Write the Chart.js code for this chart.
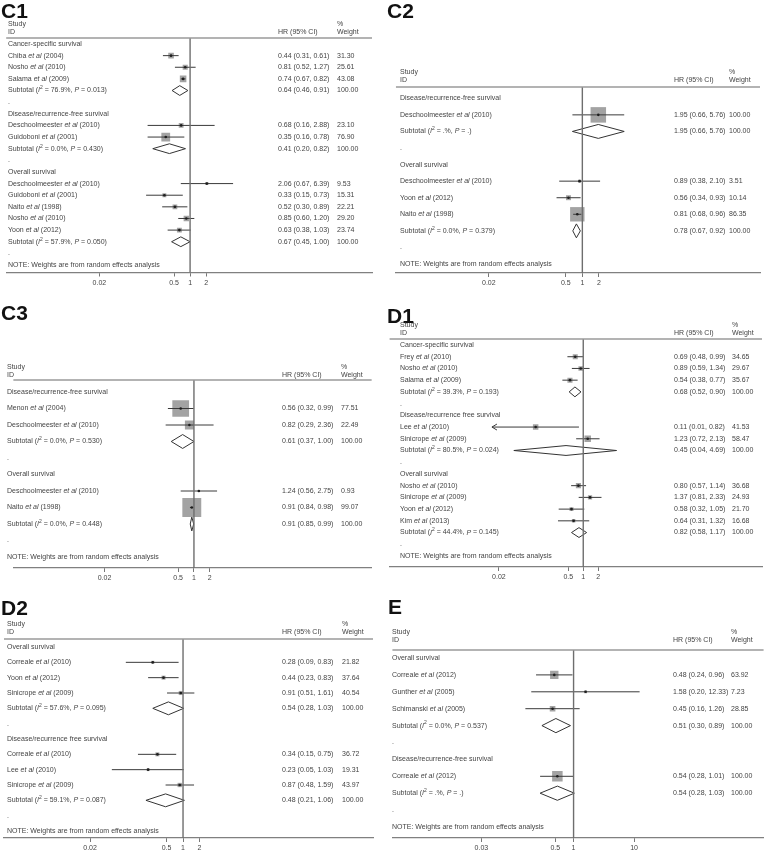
<!DOCTYPE html>
<html>
<head>
<meta charset="utf-8">
<script src="https://cdn.jsdelivr.net/npm/chart.js@4.4.1/dist/chart.umd.min.js"></script>
<style>
  html, body { margin: 0; padding: 0; background: #fff; }
  #page { position: relative; width: 771px; height: 854px; overflow: hidden; }
  .panel { position: absolute; }
</style>
</head>
<body>
<div id="page"></div>
<script>
const NOTE = 'NOTE: Weights are from random effects analysis';

// C1
const c1Rows = ['Cancer-specific survival', 'Chiba *et al* (2004)', 'Nosho *et al* (2010)', 'Salama *et al* (2009)',
  'Subtotal (*I*^2 = 76.9%, *P* = 0.013)', '.', 'Disease/recurrence-free survival', 'Deschoolmeester *et al* (2010)',
  'Guidoboni *et al* (2001)', 'Subtotal (*I*^2 = 0.0%, *P* = 0.430)', '.', 'Overall survival',
  'Deschoolmeester *et al* (2010)', 'Guidoboni *et al* (2001)', 'Naito *et al* (1998)', 'Nosho *et al* (2010)',
  'Yoon *et al* (2012)', 'Subtotal (*I*^2 = 57.9%, *P* = 0.050)', '.', NOTE];
const c1HR     = [null, 0.44, 0.81, 0.74, 0.64, null, null, 0.68, 0.35, 0.41, null, null, 2.06, 0.33, 0.52, 0.85, 0.63, 0.67, null, null];
const c1Low    = [null, 0.31, 0.52, 0.67, 0.46, null, null, 0.16, 0.16, 0.20, null, null, 0.67, 0.15, 0.30, 0.60, 0.38, 0.45, null, null];
const c1High   = [null, 0.61, 1.27, 0.82, 0.91, null, null, 2.88, 0.78, 0.82, null, null, 6.39, 0.73, 0.89, 1.20, 1.03, 1.00, null, null];
const c1Weight = [null, 31.30, 25.61, 43.08, 100, null, null, 23.10, 76.90, 100, null, null, 9.53, 15.31, 22.21, 29.20, 23.74, 100, null, null];

// C2
const c2Rows = ['Disease/recurrence-free survival', 'Deschoolmeester *et al* (2010)', 'Subtotal (*I*^2 = .%, *P* = .)', '.',
  'Overall survival', 'Deschoolmeester *et al* (2010)', 'Yoon *et al* (2012)', 'Naito *et al* (1998)',
  'Subtotal (*I*^2 = 0.0%, *P* = 0.379)', '.', NOTE];
const c2HR     = [null, 1.95, 1.95, null, null, 0.89, 0.56, 0.81, 0.78, null, null];
const c2Low    = [null, 0.66, 0.66, null, null, 0.38, 0.34, 0.68, 0.67, null, null];
const c2High   = [null, 5.76, 5.76, null, null, 2.10, 0.93, 0.96, 0.92, null, null];
const c2Weight = [null, 100, 100, null, null, 3.51, 10.14, 86.35, 100, null, null];

// C3
const c3Rows = ['Disease/recurrence-free survival', 'Menon *et al* (2004)', 'Deschoolmeester *et al* (2010)',
  'Subtotal (*I*^2 = 0.0%, *P* = 0.530)', '.', 'Overall survival', 'Deschoolmeester *et al* (2010)',
  'Naito *et al* (1998)', 'Subtotal (*I*^2 = 0.0%, *P* = 0.448)', '.', NOTE];
const c3HR     = [null, 0.56, 0.82, 0.61, null, null, 1.24, 0.91, 0.91, null, null];
const c3Low    = [null, 0.32, 0.29, 0.37, null, null, 0.56, 0.84, 0.85, null, null];
const c3High   = [null, 0.99, 2.36, 1.00, null, null, 2.75, 0.98, 0.99, null, null];
const c3Weight = [null, 77.51, 22.49, 100, null, null, 0.93, 99.07, 100, null, null];

// D1
const d1Rows = ['Cancer-specific survival', 'Frey *et al* (2010)', 'Nosho *et al* (2010)', 'Salama *et al* (2009)',
  'Subtotal (*I*^2 = 39.3%, *P* = 0.193)', '.', 'Disease/recurrence free survival', 'Lee *et al* (2010)',
  'Sinicrope *et al* (2009)', 'Subtotal (*I*^2 = 80.5%, *P* = 0.024)', '.', 'Overall survival',
  'Nosho *et al* (2010)', 'Sinicrope *et al* (2009)', 'Yoon *et al* (2012)', 'Kim *et al* (2013)',
  'Subtotal (*I*^2 = 44.4%, *P* = 0.145)', '.', NOTE];
const d1HR     = [null, 0.69, 0.89, 0.54, 0.68, null, null, 0.11, 1.23, 0.45, null, null, 0.80, 1.37, 0.58, 0.64, 0.82, null, null];
const d1Low    = [null, 0.48, 0.59, 0.38, 0.52, null, null, 0.01, 0.72, 0.04, null, null, 0.57, 0.81, 0.32, 0.31, 0.58, null, null];
const d1High   = [null, 0.99, 1.34, 0.77, 0.90, null, null, 0.82, 2.13, 4.69, null, null, 1.14, 2.33, 1.05, 1.32, 1.17, null, null];
const d1Weight = [null, 34.65, 29.67, 35.67, 100, null, null, 41.53, 58.47, 100, null, null, 36.68, 24.93, 21.70, 16.68, 100, null, null];

// D2
const d2Rows = ['Overall survival', 'Correale *et al* (2010)', 'Yoon *et al* (2012)', 'Sinicrope *et al* (2009)',
  'Subtotal (*I*^2 = 57.6%, *P* = 0.095)', '.', 'Disease/recurrence free survival', 'Correale *et al* (2010)',
  'Lee *et al* (2010)', 'Sinicrope *et al* (2009)', 'Subtotal (*I*^2 = 59.1%, *P* = 0.087)', '.', NOTE];
const d2HR     = [null, 0.28, 0.44, 0.91, 0.54, null, null, 0.34, 0.23, 0.87, 0.48, null, null];
const d2Low    = [null, 0.09, 0.23, 0.51, 0.28, null, null, 0.15, 0.05, 0.48, 0.21, null, null];
const d2High   = [null, 0.83, 0.83, 1.61, 1.03, null, null, 0.75, 1.03, 1.59, 1.06, null, null];
const d2Weight = [null, 21.82, 37.64, 40.54, 100, null, null, 36.72, 19.31, 43.97, 100, null, null];

// E
const eRows = ['Overall survival', 'Correale *et al* (2012)', 'Gunther *et al* (2005)', 'Schimanski *et al* (2005)',
  'Subtotal (*I*^2 = 0.0%, *P* = 0.537)', '.', 'Disease/recurrence-free survival', 'Correale *et al* (2012)',
  'Subtotal (*I*^2 = .%, *P* = .)', '.', NOTE];
const eHR     = [null, 0.48, 1.58, 0.45, 0.51, null, null, 0.54, 0.54, null, null];
const eLow    = [null, 0.24, 0.20, 0.16, 0.30, null, null, 0.28, 0.28, null, null];
const eHigh   = [null, 0.96, 12.33, 1.26, 0.89, null, null, 1.01, 1.03, null, null];
const eWeight = [null, 63.92, 7.23, 28.85, 100, null, null, 100, 100, null, null];

const cTicks = [0.02, 0.5, 1, 2];
const eTicks = [0.03, 0.5, 1, 10];

const FAMILY = '"Liberation Sans", Arial, Helvetica, sans-serif';
const TEXT = '#444';
const AXIS_H = 14;

// layout of each panel in page pixels
const panels = [
  { id: 'C1', rows: c1Rows, hr: c1HR, lo: c1Low, hi: c1High, wt: c1Weight, ticks: cTicks,
    box: [0, 0, 385, 292], area: [2, 372], head: 38, axis: 272.5, rowY: [44, 265], one: 188, perDecade: 54,
    title: [1, 18], textX: 8, hrX: 278, wtX: 337, headY: [24, 32], boxK: 1.0 },
  { id: 'C2', rows: c2Rows, hr: c2HR, lo: c2Low, hi: c2High, wt: c2Weight, ticks: cTicks,
    box: [385, 0, 386, 292], area: [388, 765], head: 87, axis: 273, rowY: [98.3, 264], one: 581, perDecade: 57,
    title: [387, 18], textX: 400, hrX: 674, wtX: 729, headY: [72, 80], boxK: 1.55 },
  { id: 'C3', rows: c3Rows, hr: c3HR, lo: c3Low, hi: c3High, wt: c3Weight, ticks: cTicks,
    box: [0, 292, 385, 290], area: [2, 373], head: 380, axis: 568, rowY: [392, 557], one: 189, perDecade: 54.5,
    title: [1, 320], textX: 7, hrX: 282, wtX: 341, headY: [367, 375], boxK: 1.9 },
  { id: 'D1', rows: d1Rows, hr: d1HR, lo: d1Low, hi: d1High, wt: d1Weight, ticks: cTicks,
    box: [385, 292, 386, 290], area: [387, 762], head: 339, axis: 567, rowY: [345, 556], one: 582, perDecade: 50,
    title: [387, 323], textX: 400, hrX: 674, wtX: 732, headY: [325, 333], boxK: 0.85, ciFloor: 0.0145 },
  { id: 'D2', rows: d2Rows, hr: d2HR, lo: d2Low, hi: d2High, wt: d2Weight, ticks: cTicks,
    box: [0, 582, 385, 272], area: [2, 373], head: 639, axis: 838, rowY: [647, 831], one: 182, perDecade: 55,
    title: [1, 615], textX: 7, hrX: 282, wtX: 342, headY: [624, 632], boxK: 0.65 },
  { id: 'E', rows: eRows, hr: eHR, lo: eLow, hi: eHigh, wt: eWeight, ticks: eTicks,
    box: [385, 582, 386, 272], area: [388, 765], head: 650, axis: 838, rowY: [658, 827], one: 572, perDecade: 61.5,
    title: [388, 614], textX: 392, hrX: 673, wtX: 731, headY: [632, 640], boxK: 1.05 }
];

// plain text with *italic* runs and ^x superscripts
function drawRich(ctx, str, x, y) {
  str.split('*').forEach((part, k) => {
    const ital = k % 2 === 1 ? 'italic ' : '';
    part.split('^').forEach((bit, j) => {
      if (j > 0) {
        const sup = bit[0];
        ctx.font = ital + '5px ' + FAMILY;
        ctx.fillText(sup, x, y - 2.5);
        x += ctx.measureText(sup).width;
        bit = bit.slice(1);
      }
      ctx.font = ital + '7px ' + FAMILY;
      ctx.fillText(bit, x, y);
      x += ctx.measureText(bit).width;
    });
  });
}

function drawText(chart, p) {
  const ctx = chart.ctx;
  const area = chart.chartArea;
  const ys = chart.scales.y;
  const xs = chart.scales.x;
  const bx = p.box[0], by = p.box[1];
  ctx.save();

  ctx.fillStyle = '#111';
  ctx.textBaseline = 'alphabetic';
  ctx.font = 'bold 21px ' + FAMILY;
  ctx.fillText(p.id, p.title[0] - bx, p.title[1] - by);

  ctx.strokeStyle = '#9a9a9a';
  ctx.lineWidth = 1.5;
  ctx.beginPath();
  ctx.moveTo(area.left, area.top);
  ctx.lineTo(area.right, area.top);
  ctx.stroke();

  ctx.fillStyle = TEXT;
  ctx.textBaseline = 'middle';
  ctx.font = '7px ' + FAMILY;
  ctx.fillText('Study', p.textX - bx, p.headY[0] - by);
  ctx.fillText('ID', p.textX - bx, p.headY[1] - by);
  ctx.fillText('HR (95% CI)', p.hrX - bx, p.headY[1] - by);
  ctx.fillText('%', p.wtX - bx, p.headY[0] - by);
  ctx.fillText('Weight', p.wtX - bx, p.headY[1] - by);

  p.rows.forEach((label, i) => {
    const y = ys.getPixelForValue(i);
    drawRich(ctx, label, p.textX - bx, y);
    if (p.hr[i] == null) return;
    ctx.font = '7px ' + FAMILY;
    ctx.fillText(p.hr[i].toFixed(2) + ' (' + p.lo[i].toFixed(2) + ', ' + p.hi[i].toFixed(2) + ')', p.hrX - bx, y);
    ctx.fillText(p.wt[i].toFixed(2), p.wtX - bx, y);
    // arrow where the CI runs off the left end
    if (p.ciFloor && p.lo[i] < p.ciFloor && !label.startsWith('Subtotal')) {
      const ax = xs.getPixelForValue(p.ciFloor);
      ctx.strokeStyle = '#3a3a3a';
      ctx.lineWidth = 1;
      ctx.beginPath();
      ctx.moveTo(ax + 5, y - 3);
      ctx.lineTo(ax, y);
      ctx.lineTo(ax + 5, y + 3);
      ctx.stroke();
    }
  });
  ctx.restore();
}

function makeChart(p) {
  const [bx, by, bw, bh] = p.box;
  const wrap = document.createElement('div');
  wrap.className = 'panel';
  wrap.style.left = bx + 'px';
  wrap.style.top = by + 'px';
  wrap.style.width = bw + 'px';
  wrap.style.height = bh + 'px';
  const canvas = document.createElement('canvas');
  canvas.width = bw;
  canvas.height = bh;
  canvas.style.width = bw + 'px';
  canvas.style.height = bh + 'px';
  wrap.appendChild(canvas);
  document.getElementById('page').appendChild(wrap);

  const n = p.rows.length;
  const sp = (p.rowY[1] - p.rowY[0]) / (n - 1);
  const yMin = -(p.rowY[0] - p.head) / sp;
  const yMax = (n - 1) + (p.axis - p.rowY[1]) / sp;
  const xMin = Math.pow(10, -(p.one - p.area[0]) / p.perDecade);
  const xMax = Math.pow(10, (p.area[1] - p.one) / p.perDecade);
  const floor = p.ciFloor || 0;

  const ciPts = [], boxPts = [], boxR = [], dotPts = [], diaPts = [];
  p.rows.forEach((label, i) => {
    if (p.hr[i] == null) return;
    if (label.startsWith('Subtotal')) {
      diaPts.push({ x: p.lo[i], y: i }, { x: p.hr[i], y: i - 0.42 }, { x: p.hi[i], y: i },
        { x: p.hr[i], y: i + 0.42 }, { x: p.lo[i], y: i }, { x: null, y: null });
    } else {
      ciPts.push({ x: Math.max(p.lo[i], floor), y: i }, { x: p.hi[i], y: i }, { x: null, y: null });
      boxPts.push({ x: p.hr[i], y: i });
      boxR.push(p.boxK * Math.sqrt(p.wt[i]) / Math.SQRT2);
      dotPts.push({ x: p.hr[i], y: i });
    }
  });

  new Chart(canvas.getContext('2d'), {
    type: 'scatter',
    data: {
      datasets: [
        { data: [{ x: 1, y: yMin }, { x: 1, y: yMax }], showLine: true, borderColor: '#6e6e6e',
          borderWidth: 1.4, pointRadius: 0, order: 0 },
        { data: dotPts, pointStyle: 'circle', pointRadius: 1.3, backgroundColor: '#1e1e1e',
          borderWidth: 0, order: 1 },
        { data: diaPts, showLine: true, borderColor: '#333', borderWidth: 1, pointRadius: 0, order: 2 },
        { data: ciPts, showLine: true, borderColor: '#3a3a3a', borderWidth: 1, pointRadius: 0, order: 3 },
        { data: boxPts, pointStyle: 'rect', pointRadius: boxR, backgroundColor: '#a3a3a3',
          borderWidth: 0, order: 4 }
      ]
    },
    options: {
      responsive: false,
      animation: false,
      events: [],
      layout: {
        padding: { left: p.area[0] - bx, right: bx + bw - p.area[1], top: p.head - by,
          bottom: by + bh - p.axis - AXIS_H }
      },
      plugins: { legend: { display: false }, tooltip: { enabled: false } },
      scales: {
        x: {
          type: 'logarithmic', min: xMin, max: xMax, bounds: 'data',
          grid: { display: true, drawOnChartArea: false, drawTicks: true, tickLength: 4, color: '#777' },
          border: { display: true, color: '#808080', width: 1.2 },
          ticks: { autoSkip: false, maxRotation: 0, padding: 2, color: '#444',
            font: { family: FAMILY, size: 7 }, callback: v => String(v) },
          afterBuildTicks: s => { s.ticks = p.ticks.map(v => ({ value: v })); },
          afterFit: s => { s.height = AXIS_H; }
        },
        y: { type: 'linear', display: false, reverse: true, min: yMin, max: yMax }
      }
    },
    plugins: [{ id: 'forestText', afterDraw: chart => drawText(chart, p) }]
  });
}

panels.forEach(makeChart);
</script>
</body>
</html>
